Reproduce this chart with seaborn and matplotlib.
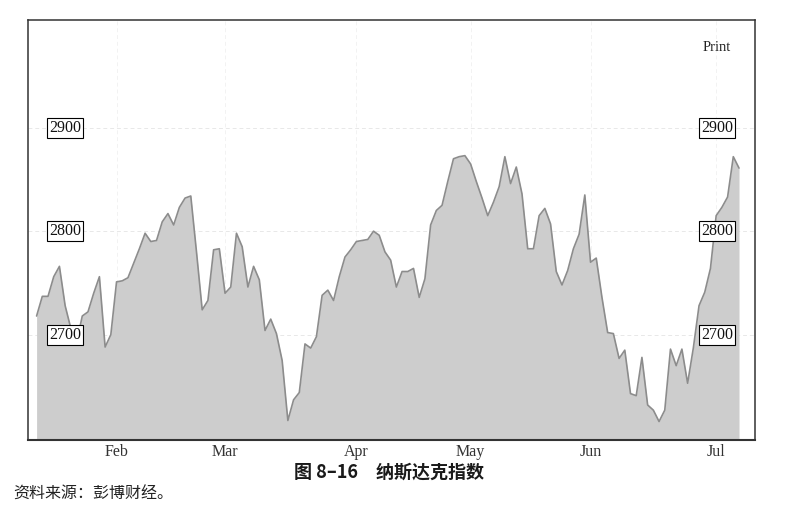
import matplotlib
matplotlib.use("Agg")
import matplotlib.pyplot as plt
import pandas as pd
import seaborn as sns

# 纳斯达克指数，日收盘
day = list(range(124))
close = [2718, 2737, 2737, 2756, 2766, 2728, 2706, 2692, 2718, 2722,
         2740, 2756, 2688, 2700, 2751, 2752, 2755, 2769, 2783, 2798,
         2790, 2791, 2809, 2817, 2806, 2823, 2832, 2834, 2780, 2724,
         2733, 2782, 2783, 2740, 2746, 2798, 2785, 2746, 2766, 2753,
         2704, 2715, 2701, 2675, 2617, 2637, 2644, 2691, 2687, 2698,
         2738, 2743, 2733, 2756, 2775, 2782, 2790, 2791, 2792, 2800,
         2796, 2780, 2772, 2746, 2761, 2761, 2764, 2736, 2754, 2806,
         2820, 2825, 2848, 2870, 2872, 2873, 2865, 2848, 2832, 2815,
         2828, 2843, 2872, 2846, 2862, 2836, 2783, 2783, 2815, 2822,
         2807, 2761, 2748, 2762, 2783, 2797, 2835, 2770, 2774, 2736,
         2702, 2701, 2677, 2685, 2643, 2641, 2678, 2632, 2627, 2616,
         2627, 2686, 2670, 2686, 2653, 2687, 2728, 2741, 2764, 2815,
         2823, 2833, 2872, 2861]

month_pos = [14, 33, 56, 76, 97, 119]
month_lab = ['Feb', 'Mar', 'Apr', 'May', 'Jun', 'Jul']
levels = [2700, 2800, 2900]

df = pd.DataFrame({'day': day, 'close': close})

sns.set_style("white")
plt.rcParams['font.family'] = ['Liberation Serif', 'DejaVu Serif']

fig = plt.figure(figsize=(8.1, 5.16), dpi=100)
ax = fig.add_axes([0.0346, 0.147, 0.8975, 0.814])

ymin = 2598
ax.fill_between(df['day'], df['close'], ymin, color='#cdcdcd', lw=0, zorder=2)
sns.lineplot(data=df, x='day', y='close', ax=ax, color='#8c8c8c', lw=1.2, zorder=3)

ax.set_xlim(-1.5, 125.8)
ax.set_ylim(ymin, 3004)

# 淡网格
for lv in levels:
    ax.axhline(lv, color='#e8e8e8', lw=0.7, ls=(0, (4, 3)), zorder=1)
for mp in month_pos:
    ax.axvline(mp, color='#f2f2f2', lw=0.7, ls=(0, (4, 3)), zorder=1)

# 左右两侧带框的刻度
box = dict(boxstyle='square,pad=0.12', fc='white', ec='black', lw=0.8)
tr = ax.get_yaxis_transform()
for lv in levels:
    ax.text(0.051, lv, str(lv), transform=tr, ha='center', va='center',
            fontsize=11.5, color='#111111', bbox=box, zorder=5)
    ax.text(0.948, lv, str(lv), transform=tr, ha='center', va='center',
            fontsize=11.5, color='#111111', bbox=box, zorder=5)

ax.text(0.948, 0.935, 'Print', transform=ax.transAxes, ha='center', va='center',
        fontsize=10.5, color='#222222')

ax.set_xticks(month_pos)
ax.set_xticklabels(month_lab, fontsize=11.5, color='#333333')
ax.set_yticks([])
ax.tick_params(axis='x', length=0, pad=3)
ax.set_xlabel('')
ax.set_ylabel('')

for s in ax.spines.values():
    s.set_visible(True)
    s.set_color('#333333')
    s.set_linewidth(1.1)
ax.spines['bottom'].set_linewidth(1.5)

cjk = ['Noto Sans CJK SC', 'DejaVu Sans']
fig.text(0.48, 0.085, '图 8–16　纳斯达克指数', ha='center', va='center',
         fontsize=13, fontweight='bold', family=cjk, color='#1a1a1a')
fig.text(0.016, 0.043, '资料来源：彭博财经。', ha='left', va='center',
         fontsize=11.5, family=cjk, color='#222222')

fig.savefig('out.png', dpi=100)
